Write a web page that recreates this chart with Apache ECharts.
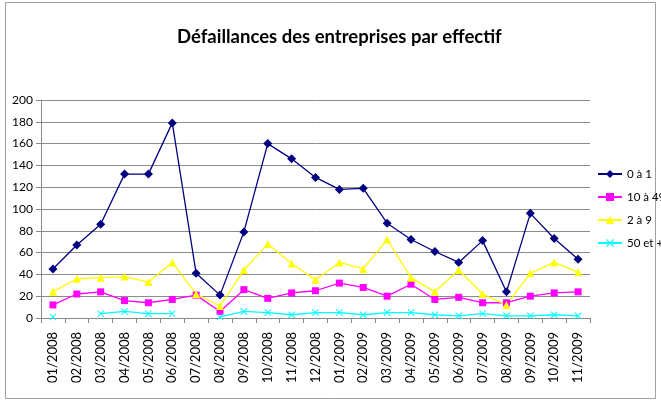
<!DOCTYPE html>
<html><head><meta charset="utf-8">
<script src="https://cdn.jsdelivr.net/npm/echarts@6/dist/echarts.min.js"></script>
<style>html,body{margin:0;padding:0;background:#fff}#c{width:661px;height:401px}</style>
</head><body><div id="c"></div>
<script>
const categories = ["01/2008","02/2008","03/2008","04/2008","05/2008","06/2008","07/2008","08/2008","09/2008","10/2008","11/2008","12/2008","01/2009","02/2009","03/2009","04/2009","05/2009","06/2009","07/2009","08/2009","09/2009","10/2009","11/2009"];
const s0a1 = [45,67,86,132,132,179,41,21,79,160,146,129,118,119,87,72,61,51,71,24,96,73,54];
const s10a49 = [12,22,24,16,14,17,21,6,26,18,23,25,32,28,20,31,17,19,14,14,20,23,24];
const s2a9 = [24,36,37,38,33,51,22,11,44,68,50,35,51,45,72,37,24,44,22,12,41,51,42];
const s50plus = [1,null,4,6,4,4,null,1,6,5,3,5,5,3,5,5,3,2,4,2,2,3,2];
const yTicks = [0,20,40,60,80,100,120,140,160,180,200];

const font = 'Lato,"Liberation Sans",Arial,sans-serif';
const xSym = 'path://M0,1L1,0L5,4L9,0L10,1L6,5L10,9L9,10L5,6L1,10L0,9L4,5Z';
const chart = echarts.init(document.getElementById('c'), null, {renderer:'canvas'});
function ser(name, data, color, symbol, size) {
  return {name, type:'line', data, symbol, symbolSize:size, showSymbol:true,
    connectNulls:false, animation:false,
    lineStyle:{color, width:1.3}, itemStyle:{color, borderWidth:0}};
}
chart.setOption({
  animation:false,
  title:{text:'Défaillances des entreprises par effectif', left:172, top:23,
    textStyle:{fontFamily:font, fontSize:18.5, fontWeight:'bold', color:'#000'}},
  graphic:[{type:'rect', shape:{x:5.5,y:2.5,width:650,height:396}, style:{fill:null, stroke:'#a0a0a0', lineWidth:1}, silent:true}],
  legend:{orient:'vertical', left:597, top:168, padding:0, itemGap:11, itemWidth:24, itemHeight:10,
    textStyle:{fontFamily:font, fontSize:11.5, color:'#000'},
    data:['0 à 1','10 à 49','2 à 9','50 et +']},
  grid:{left:41, right:71, top:100, bottom:83},
  xAxis:{type:'category', data:categories, boundaryGap:true,
    axisLine:{lineStyle:{color:'#888'}},
    axisTick:{show:true, alignWithLabel:false, length:5, lineStyle:{color:'#888'}},
    axisLabel:{rotate:90, interval:0, margin:14, fontFamily:font, fontSize:13, color:'#000'}},
  yAxis:{type:'value', min:0, max:200, interval:20,
    axisLine:{show:true, lineStyle:{color:'#888'}},
    axisTick:{show:true, length:5, lineStyle:{color:'#888'}},
    splitLine:{lineStyle:{color:'#8c8c8c', width:1}},
    axisLabel:{fontFamily:font, fontSize:12, color:'#000', margin:8,
      formatter:v=>yTicks.includes(v)?String(v):''}},
  series:[
    ser('0 à 1', s0a1, '#000080', 'diamond', 9),
    ser('10 à 49', s10a49, '#FF00FF', 'rect', 7),
    ser('2 à 9', s2a9, '#FFFF00', 'triangle', 8),
    ser('50 et +', s50plus, '#00FFFF', xSym, 7)
  ]
});
</script></body></html>
